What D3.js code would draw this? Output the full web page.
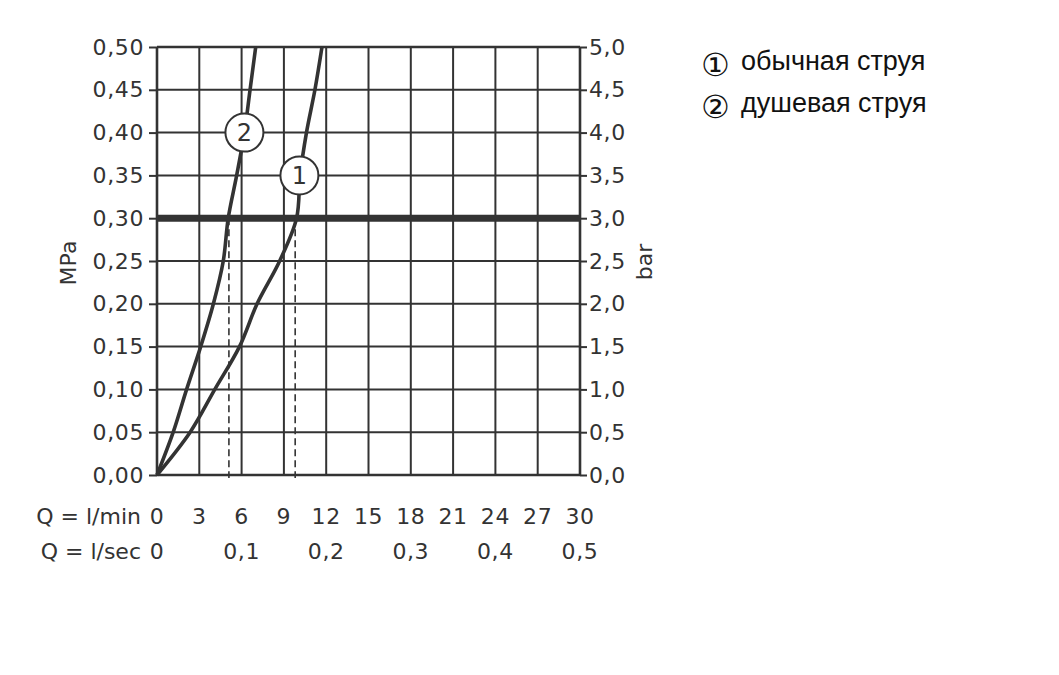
<!DOCTYPE html>
<html><head><meta charset="utf-8">
<script src="https://cdn.jsdelivr.net/npm/d3@7"></script>
<style>body{margin:0;background:#fff}</style>
</head><body>
<script>
// Data
const qMinTicks = [0,3,6,9,12,15,18,21,24,27,30];
const qSecTicks = [0,0.1,0.2,0.3,0.4,0.5];
const mpaTicks = [0,0.05,0.10,0.15,0.20,0.25,0.30,0.35,0.40,0.45,0.50];
const barTicks = [0,0.5,1.0,1.5,2.0,2.5,3.0,3.5,4.0,4.5,5.0];
// curve 1: обычная струя  (Q l/min, p MPa)
const curve1Q = [0,2.35,4.1,5.85,7.1,8.7,9.9,10.15,10.6,11.2,11.7];
const curve1P = [0,0.05,0.10,0.15,0.20,0.25,0.30,0.35,0.40,0.45,0.50];
// curve 2: душевая струя
const curve2Q = [0,1.15,2.1,3.1,4.0,4.7,5.05,5.65,6.2,6.6,7.0];
const curve2P = [0,0.05,0.10,0.15,0.20,0.25,0.30,0.35,0.40,0.45,0.50];
const refPressure = 0.30;
const dashedQ = [5.1, 9.8];
const labels = [{n:"1", q:10.1, p:0.35},{n:"2", q:6.2, p:0.40}];
const legendItems = [["①","обычная струя"],["②","душевая струя"]];

const W=1059,H=675, col="#333";
const svg=d3.select("body").append("svg").attr("width",W).attr("height",H);
const x=d3.scaleLinear().domain([0,30]).range([157,580]);
const y=d3.scaleLinear().domain([0,0.5]).range([475,47]);
const yb=d3.scaleLinear().domain([0,5]).range([475,47]);
const xs=d3.scaleLinear().domain([0,0.5]).range([157,580]);
const font="'DejaVu Sans', sans-serif";
const ls="0.6px";
const fmt=(d,n)=>d.toFixed(n).replace(".",",");

// grid
svg.append("g").selectAll("line").data(qMinTicks).join("line")
  .attr("x1",d=>x(d)).attr("x2",d=>x(d)).attr("y1",y(0.5)).attr("y2",y(0))
  .attr("stroke",col).attr("stroke-width",d=>(d===0||d===30)?2.6:2);
svg.append("g").selectAll("line").data(mpaTicks).join("line")
  .attr("x1",x(0)).attr("x2",x(30)).attr("y1",d=>y(d)).attr("y2",d=>y(d))
  .attr("stroke",col).attr("stroke-width",d=>(d===0||d===0.5)?2.6:2);

// left axis
const la=svg.append("g").attr("transform",`translate(${x(0)},0)`)
  .call(d3.axisLeft(y).tickValues(mpaTicks).tickSize(8).tickPadding(5).tickFormat(d=>fmt(d,2)));
// right axis
const ra=svg.append("g").attr("transform",`translate(${x(30)},0)`)
  .call(d3.axisRight(yb).tickValues(barTicks).tickSize(7).tickPadding(2).tickFormat(d=>fmt(d,1)));
[la,ra].forEach(a=>{a.select(".domain").remove();
  a.selectAll(".tick line").attr("stroke",col).attr("stroke-width",2);
  a.selectAll("text").attr("font-family",font).attr("font-size",22).attr("fill",col)
   .style("letter-spacing",ls);});

// bottom labels
const bx=svg.append("g");
bx.selectAll("text.m").data(qMinTicks).join("text").attr("class","m")
  .attr("x",d=>x(d)).attr("y",524).attr("text-anchor","middle")
  .attr("font-family",font).attr("font-size",22).attr("fill",col).style("letter-spacing",ls).text(d=>d);
bx.selectAll("text.s").data(qSecTicks).join("text").attr("class","s")
  .attr("x",d=>xs(d)).attr("y",559).attr("text-anchor","middle")
  .attr("font-family",font).attr("font-size",22).attr("fill",col).style("letter-spacing",ls).text(d=>d===0?"0":fmt(d,1));
bx.append("text").attr("x",141).attr("y",524).attr("text-anchor","end")
  .attr("font-family",font).attr("font-size",22).attr("fill",col).text("Q = l/min");
bx.append("text").attr("x",141).attr("y",559).attr("text-anchor","end")
  .attr("font-family",font).attr("font-size",22).attr("fill",col).text("Q = l/sec");

// axis titles
svg.append("text").attr("transform","translate(76,263) rotate(-90)").attr("text-anchor","middle")
  .attr("font-family",font).attr("font-size",22).attr("fill",col).text("MPa");
svg.append("text").attr("transform","translate(652,262) rotate(-90)").attr("text-anchor","middle")
  .attr("font-family",font).attr("font-size",22).attr("fill",col).text("bar");

// dashed lines
svg.append("g").selectAll("line").data(dashedQ).join("line")
  .attr("x1",d=>x(d)).attr("x2",d=>x(d)).attr("y1",y(refPressure)).attr("y2",y(0)+3)
  .attr("stroke",col).attr("stroke-width",1.6).attr("stroke-dasharray","7,4");

// thick reference line
svg.append("line").attr("x1",x(0)).attr("x2",x(30)).attr("y1",y(refPressure)).attr("y2",y(refPressure))
  .attr("stroke",col).attr("stroke-width",7);

// curves
const line=d3.line().x(d=>x(d[0])).y(d=>y(d[1])).curve(d3.curveCatmullRom.alpha(0.5));
[[curve1Q,curve1P],[curve2Q,curve2P]].forEach(([q,p])=>{
  svg.append("path").datum(q.map((v,i)=>[v,p[i]])).attr("d",line)
    .attr("fill","none").attr("stroke",col).attr("stroke-width",3.6).attr("stroke-linejoin","round");
});

// circle labels
const cl=svg.append("g").selectAll("g").data(labels).join("g")
  .attr("transform",d=>`translate(${x(d.q)},${y(d.p)})`);
cl.append("circle").attr("r",19).attr("fill","#fff").attr("stroke",col).attr("stroke-width",2);
cl.append("text").attr("y",8.5).attr("text-anchor","middle").attr("font-family",font)
  .attr("font-size",24).attr("fill",col).text(d=>d.n);

// legend
const lg=svg.append("g").selectAll("g").data(legendItems).join("g")
  .attr("transform",(d,i)=>`translate(0,${70+i*42})`);
lg.append("text").attr("x",701).attr("y",6).attr("font-family","'DejaVu Sans',sans-serif").attr("font-size",32)
  .attr("fill","#111").text(d=>d[0]);
lg.append("text").attr("x",741).attr("font-family","'Liberation Sans',Arial,sans-serif").attr("font-size",27)
  .attr("fill","#111").text(d=>d[1]);
</script>
</body></html>
